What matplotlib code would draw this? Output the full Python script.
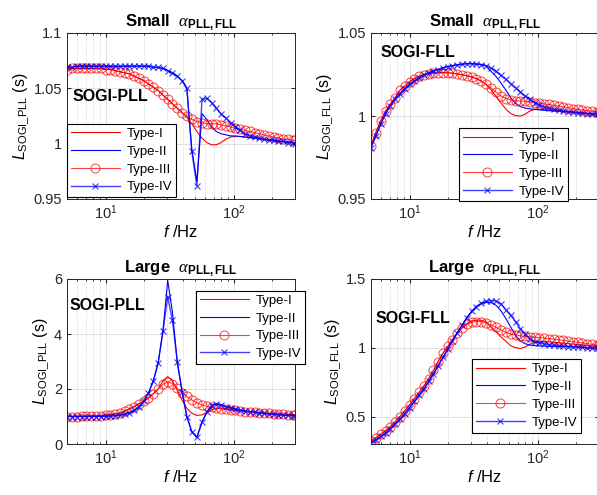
import matplotlib
matplotlib.use("Agg")
import matplotlib.pyplot as plt
from matplotlib.ticker import LogLocator, NullFormatter

plt.rcParams['font.family'] = ['Liberation Sans', 'DejaVu Sans']
plt.rcParams['mathtext.fontset'] = 'custom'
plt.rcParams['mathtext.rm'] = 'Liberation Sans'
plt.rcParams['mathtext.it'] = 'Liberation Sans:italic'
plt.rcParams['mathtext.bf'] = 'Liberation Sans:bold'
plt.rcParams['mathtext.sf'] = 'Liberation Serif:italic'   # used only for the alpha

# --- frequency points (Hz) ---
freq = [5.0, 5.45, 5.95, 6.5, 7.05, 7.7, 8.4, 9.15, 10.0, 10.9,
        11.85, 12.9, 14.1, 15.35, 16.7, 18.2, 19.85, 21.6, 23.6, 25.7,
        28.0, 30.5, 33.2, 36.2, 39.5, 43.0, 47.0, 51.5, 56.5, 61.5,
        67.0, 73.0, 79.5, 86.5, 94.5, 103, 112, 122, 133, 145,
        158, 172, 187, 204, 222, 242, 264, 288, 300]

labels = ['Type-I', 'Type-II', 'Type-III', 'Type-IV']

# --- Small alpha, SOGI-PLL ---
small_pll_t1 = [1.067, 1.068, 1.068, 1.068, 1.068, 1.068, 1.068, 1.068, 1.067, 1.067,
                1.066, 1.065, 1.064, 1.063, 1.061, 1.059, 1.057, 1.054, 1.051, 1.048,
                1.044, 1.040, 1.036, 1.032, 1.028, 1.024, 1.018, 1.011, 1.005, 1.001,
                0.999, 0.999, 1.001, 1.004, 1.006, 1.0065, 1.0065, 1.006, 1.0055, 1.005,
                1.0045, 1.004, 1.0035, 1.003, 1.0025, 1.002, 1.0015, 1.001, 1.001]
small_pll_t2 = [1.069, 1.069, 1.070, 1.070, 1.070, 1.070, 1.070, 1.070, 1.070, 1.070,
                1.070, 1.070, 1.070, 1.070, 1.070, 1.070, 1.070, 1.070, 1.069, 1.069,
                1.068, 1.066, 1.064, 1.061, 1.057, 1.050, 0.995, 0.966, 1.027, 1.022,
                1.015, 1.011, 1.009, 1.008, 1.007, 1.007, 1.0065, 1.006, 1.0055, 1.005,
                1.0045, 1.004, 1.0035, 1.003, 1.0025, 1.002, 1.0015, 1.001, 1.000]
small_pll_t3 = [1.067, 1.068, 1.068, 1.068, 1.068, 1.068, 1.068, 1.068, 1.067, 1.067,
                1.066, 1.065, 1.064, 1.063, 1.061, 1.059, 1.057, 1.054, 1.051, 1.048,
                1.044, 1.040, 1.036, 1.032, 1.028, 1.025, 1.022, 1.020, 1.019, 1.018,
                1.018, 1.018, 1.017, 1.016, 1.015, 1.014, 1.013, 1.012, 1.011, 1.010,
                1.009, 1.008, 1.007, 1.006, 1.005, 1.004, 1.004, 1.003, 1.003]
small_pll_t4 = [1.069, 1.069, 1.070, 1.070, 1.070, 1.070, 1.070, 1.070, 1.070, 1.070,
                1.070, 1.070, 1.070, 1.070, 1.070, 1.070, 1.070, 1.070, 1.069, 1.069,
                1.068, 1.066, 1.064, 1.061, 1.057, 1.050, 0.993, 0.962, 1.040, 1.041,
                1.037, 1.032, 1.027, 1.023, 1.019, 1.015, 1.012, 1.009, 1.007, 1.006,
                1.005, 1.004, 1.003, 1.003, 1.002, 1.002, 1.001, 1.001, 1.000]

# --- Small alpha, SOGI-FLL ---
small_fll_t1 = [0.982, 0.990, 0.997, 1.003, 1.007, 1.011, 1.0155, 1.018, 1.0205, 1.0225,
                1.024, 1.025, 1.0255, 1.026, 1.026, 1.0262, 1.026, 1.0258, 1.0253, 1.0248,
                1.0242, 1.0235, 1.0225, 1.021, 1.019, 1.016, 1.012, 1.008, 1.004, 1.0015,
                1.0002, 1.000, 1.001, 1.003, 1.004, 1.004, 1.0038, 1.0035, 1.0032, 1.003,
                1.0027, 1.0025, 1.0022, 1.002, 1.0018, 1.0015, 1.0012, 1.001, 1.001]
small_fll_t2 = [0.981, 0.988, 0.995, 1.0015, 1.006, 1.010, 1.0135, 1.0165, 1.019, 1.021,
                1.023, 1.0245, 1.026, 1.027, 1.028, 1.029, 1.0298, 1.0303, 1.0308, 1.0312,
                1.0315, 1.0315, 1.0313, 1.031, 1.0302, 1.027, 1.024, 1.020, 1.0155, 1.011,
                1.0075, 1.0057, 1.0048, 1.0043, 1.004, 1.0037, 1.0035, 1.0032, 1.003, 1.0028,
                1.0026, 1.0024, 1.0022, 1.002, 1.0017, 1.0015, 1.0012, 1.001, 1.001]
small_fll_t3 = [0.982, 0.990, 0.997, 1.003, 1.007, 1.011, 1.0155, 1.018, 1.0205, 1.0225,
                1.024, 1.025, 1.0255, 1.026, 1.026, 1.0262, 1.026, 1.0258, 1.0253, 1.0248,
                1.0242, 1.0235, 1.0225, 1.021, 1.019, 1.017, 1.0145, 1.012, 1.0105, 1.0097,
                1.0093, 1.009, 1.0088, 1.0085, 1.008, 1.0077, 1.0073, 1.007, 1.0065, 1.006,
                1.0055, 1.005, 1.0045, 1.004, 1.0037, 1.0033, 1.003, 1.0027, 1.0025]
small_fll_t4 = [0.981, 0.988, 0.995, 1.0015, 1.006, 1.010, 1.0135, 1.0165, 1.019, 1.021,
                1.023, 1.0245, 1.026, 1.027, 1.028, 1.029, 1.0298, 1.0303, 1.0308, 1.0312,
                1.0315, 1.0315, 1.0313, 1.031, 1.0302, 1.029, 1.027, 1.0245, 1.022, 1.0195,
                1.017, 1.0145, 1.012, 1.010, 1.008, 1.0065, 1.0055, 1.0047, 1.004, 1.0035,
                1.003, 1.0027, 1.0024, 1.0021, 1.0018, 1.0015, 1.0012, 1.001, 1.001]

# --- Large alpha, SOGI-PLL ---
large_pll_t1 = [1.00, 1.00, 1.00, 1.005, 1.01, 1.015, 1.02, 1.03, 1.05, 1.07,
                1.09, 1.12, 1.20, 1.28, 1.36, 1.46, 1.56, 1.68, 1.83, 2.00,
                2.30, 2.45, 2.30, 1.95, 1.60, 1.30, 1.12, 1.04, 1.06, 1.15,
                1.24, 1.29, 1.30, 1.28, 1.26, 1.23, 1.21, 1.19, 1.17, 1.155,
                1.14, 1.125, 1.11, 1.10, 1.09, 1.08, 1.07, 1.06, 1.06]
large_pll_t2 = [1.00, 1.00, 1.00, 1.00, 1.00, 1.00, 1.00, 1.00, 1.01, 1.02,
                1.03, 1.05, 1.08, 1.14, 1.22, 1.35, 1.55, 1.85, 2.30, 2.95,
                4.10, 5.95, 4.80, 3.00, 1.90, 1.00, 0.45, 0.24, 0.80, 1.15,
                1.40, 1.46, 1.42, 1.36, 1.31, 1.27, 1.23, 1.20, 1.17, 1.15,
                1.13, 1.11, 1.09, 1.08, 1.06, 1.05, 1.04, 1.03, 1.03]
large_pll_t3 = [1.00, 1.00, 1.00, 1.005, 1.01, 1.015, 1.02, 1.03, 1.05, 1.07,
                1.09, 1.12, 1.20, 1.28, 1.36, 1.46, 1.56, 1.68, 1.83, 2.00,
                2.17, 2.27, 2.20, 2.03, 1.87, 1.73, 1.60, 1.50, 1.42, 1.37,
                1.33, 1.30, 1.28, 1.26, 1.24, 1.22, 1.20, 1.18, 1.165, 1.15,
                1.135, 1.12, 1.11, 1.10, 1.09, 1.08, 1.07, 1.06, 1.06]
large_pll_t4 = [1.00, 1.00, 1.00, 1.00, 1.00, 1.00, 1.00, 1.00, 1.01, 1.02,
                1.03, 1.05, 1.08, 1.14, 1.22, 1.35, 1.55, 1.85, 2.30, 2.95,
                4.10, 5.35, 4.50, 3.00, 1.90, 1.00, 0.45, 0.24, 0.80, 1.15,
                1.40, 1.46, 1.42, 1.36, 1.31, 1.27, 1.23, 1.20, 1.17, 1.15,
                1.13, 1.11, 1.09, 1.08, 1.06, 1.05, 1.04, 1.03, 1.03]

# --- Large alpha, SOGI-FLL ---
large_fll_t1 = [0.32, 0.345, 0.37, 0.396, 0.425, 0.46, 0.50, 0.54, 0.585, 0.63,
                0.675, 0.72, 0.775, 0.835, 0.90, 0.96, 1.01, 1.06, 1.11, 1.145,
                1.175, 1.195, 1.20, 1.20, 1.19, 1.15, 1.12, 1.08, 1.045, 1.015,
                1.00, 0.995, 1.005, 1.025, 1.04, 1.045, 1.045, 1.043, 1.04, 1.037,
                1.034, 1.03, 1.027, 1.024, 1.02, 1.017, 1.014, 1.01, 1.008]
large_fll_t2 = [0.31, 0.33, 0.355, 0.38, 0.41, 0.445, 0.48, 0.52, 0.565, 0.61,
                0.655, 0.70, 0.755, 0.81, 0.87, 0.93, 0.99, 1.05, 1.11, 1.165,
                1.22, 1.265, 1.30, 1.32, 1.33, 1.33, 1.31, 1.27, 1.21, 1.15,
                1.09, 1.05, 1.03, 1.02, 1.015, 1.013, 1.012, 1.011, 1.01, 1.009,
                1.008, 1.007, 1.006, 1.005, 1.003, 1.0, 0.998, 0.996, 0.995]
large_fll_t3 = [0.32, 0.345, 0.37, 0.396, 0.425, 0.46, 0.50, 0.54, 0.585, 0.63,
                0.675, 0.72, 0.775, 0.835, 0.90, 0.96, 1.01, 1.06, 1.11, 1.145,
                1.17, 1.185, 1.19, 1.19, 1.18, 1.165, 1.15, 1.13, 1.112, 1.10,
                1.092, 1.087, 1.084, 1.08, 1.077, 1.073, 1.07, 1.066, 1.062, 1.058,
                1.053, 1.048, 1.044, 1.04, 1.035, 1.03, 1.025, 1.02, 1.019]
large_fll_t4 = [0.31, 0.33, 0.355, 0.38, 0.41, 0.445, 0.48, 0.52, 0.565, 0.61,
                0.655, 0.70, 0.755, 0.81, 0.87, 0.93, 0.99, 1.05, 1.11, 1.165,
                1.22, 1.265, 1.30, 1.325, 1.338, 1.343, 1.34, 1.32, 1.275, 1.235,
                1.19, 1.14, 1.10, 1.065, 1.045, 1.034, 1.027, 1.022, 1.018, 1.014,
                1.011, 1.009, 1.007, 1.005, 1.003, 1.0, 0.998, 0.996, 0.995]

fig = plt.figure(figsize=(5.97, 4.95), dpi=100)

W, H = 597.0, 495.0
def px_axes(left, top, right, bottom):
    return fig.add_axes([left / W, 1 - bottom / H, (right - left) / W, (bottom - top) / H])

ax_tl = px_axes(67, 33, 295, 199)
ax_tr = px_axes(371, 33, 599, 199)
ax_bl = px_axes(67, 279, 295, 444)
ax_br = px_axes(371, 279, 599, 444)

panels = [
    (ax_tl, [small_pll_t1, small_pll_t2, small_pll_t3, small_pll_t4], 'Small', 'PLL',
     (0.95, 1.1), [0.95, 1.0, 1.05, 1.1], ['0.95', '1', '1.05', '1.1'],
     (0.022, 0.62), dict(loc='lower left', bbox_to_anchor=(0.0, 0.01))),
    (ax_tr, [small_fll_t1, small_fll_t2, small_fll_t3, small_fll_t4], 'Small', 'FLL',
     (0.95, 1.05), [0.95, 1.0, 1.05], ['0.95', '1', '1.05'],
     (0.04, 0.88), dict(loc='lower right', bbox_to_anchor=(0.864, -0.015))),
    (ax_bl, [large_pll_t1, large_pll_t2, large_pll_t3, large_pll_t4], 'Large', 'PLL',
     (0, 6), [0, 2, 4, 6], ['0', '2', '4', '6'],
     (0.01, 0.84), dict(loc='upper left', bbox_to_anchor=(0.566, 0.93))),
    (ax_br, [large_fll_t1, large_fll_t2, large_fll_t3, large_fll_t4], 'Large', 'FLL',
     (0.3, 1.5), [0.5, 1.0, 1.5], ['0.5', '1', '1.5'],
     (0.018, 0.76), dict(loc='upper left', bbox_to_anchor=(0.443, 0.515))),
]

for ax, series, size, kind, ylim, yticks, yticklabels, txtpos, legpos in panels:
    t1, t2, t3, t4 = series
    ax.plot(freq, t1, color=(1, 0, 0), lw=0.8, label=labels[0])
    ax.plot(freq, t2, color=(0, 0, 1), lw=0.8, label=labels[1])
    ax.plot(freq, t3, color=(1, 0, 0), lw=0.8, marker='o', ms=6.5, mfc='none',
            mew=0.7, alpha=0.75, label=labels[2])
    ax.plot(freq, t4, color=(0, 0, 1), lw=1.0, marker='x', ms=5, mew=0.8,
            alpha=0.75, label=labels[3])

    ax.set_xscale('log')
    ax.set_xlim(5, 300)
    ax.set_ylim(*ylim)
    ax.set_yticks(yticks)
    ax.set_yticklabels(yticklabels)
    ax.xaxis.set_major_locator(LogLocator(base=10, numticks=5))
    ax.xaxis.set_minor_locator(LogLocator(base=10, subs=range(2, 10), numticks=20))
    ax.xaxis.set_minor_formatter(NullFormatter())
    ax.tick_params(which='both', direction='in', top=True, right=True, labelsize=10.5,
                   colors='#262626')
    ax.tick_params(which='major', length=3)
    ax.tick_params(which='minor', length=1.5)
    ax.grid(True, which='major', color='#e0e0e0', lw=0.7, ls='-')
    ax.grid(True, which='minor', axis='x', color='#c8c8c8', lw=0.6, ls=':')
    ax.set_axisbelow(True)
    for sp in ax.spines.values():
        sp.set_color('#262626')
        sp.set_linewidth(0.7)

    ax.set_title(size + r'  $\mathsf{\alpha}_{\mathbf{PLL,FLL}}$', fontsize=12,
                 fontweight='bold', pad=4)
    ax.set_xlabel(r'$f$ /Hz', fontsize=12, labelpad=1)
    ax.set_ylabel(r'$L_{\mathrm{SOGI\_' + kind + r'}}$ (s)', fontsize=11.5, labelpad=2)
    ax.text(txtpos[0], txtpos[1], 'SOGI-' + kind, transform=ax.transAxes,
            fontsize=11.5, fontweight='bold', va='center', ha='left')

    leg = ax.legend(fontsize=9.5, handlelength=3.7, labelspacing=0.42, borderpad=0.3,
                    handletextpad=0.5, fancybox=False, framealpha=1, borderaxespad=0,
                    **legpos)
    leg.get_frame().set_edgecolor('black')
    leg.get_frame().set_linewidth(0.8)

fig.savefig('out.png', dpi=100)
